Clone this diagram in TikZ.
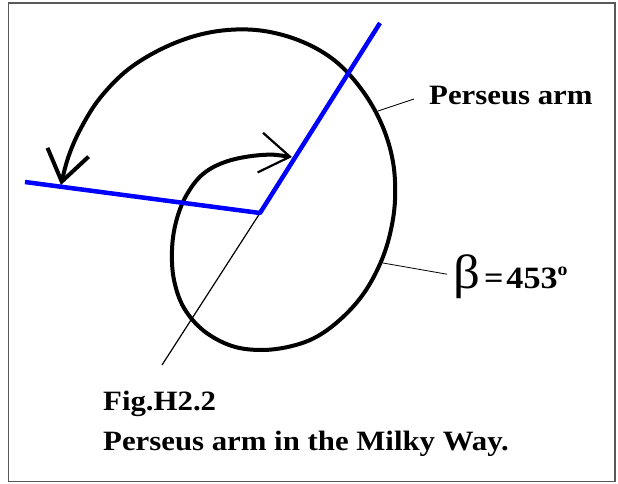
\documentclass[tikz,border=0pt]{standalone}
\usepackage{fontspec}
\setmainfont{Liberation Serif}[FakeStretch=1.1]
\usetikzlibrary{arrows.meta}
\newcommand{\labelfont}{\fontsize{28}{34}\selectfont\bfseries}

\begin{document}
\begin{tikzpicture}[
  x=1pt, y=-1pt,
  every node/.style={font=\labelfont,inner sep=0pt},
  arm/.style={draw=blue,line width=4.5pt,line join=round},
  spiral/.style={line width=4pt,line join=round},
  leader/.style={line width=0.8pt},
  frame/.style={draw=black!65,line width=1.6pt}
]
\useasboundingbox (0,0) rectangle (618,484);
\draw[frame] (8.5,3) rectangle (615,481.5);

% the spiral, from the inner arrow out to the outer one
\draw[spiral,
  {Straight Barb[length=30pt,width=40pt,line width=2.2pt]}-{Straight Barb[length=30pt,width=42pt]}]
  plot[smooth,tension=0.6] coordinates {
  (292,157) (262,155) (228,161) (203,174) (186,196) (176,222) (172,250)
  (174,280) (184,308) (204,331) (232,346) (262,350) (292,346) (318,336)
  (343,317) (364,293) (380,264) (390,234) (395,200) (393,162) (382,125)
  (362,90) (334,60) (298,40) (256,30) (212,32) (170,45) (130,68)
  (100,98) (80,130) (68,158) (61,185)};

\coordinate (centre) at (260,213);
\coordinate (westend) at (25,182);
\coordinate (armtip) at (380,23);
\coordinate (southend) at (162,365);

\draw[line width=1.2pt] (centre) -- (southend);
\draw[arm] (westend) -- (centre) -- (armtip);

% labels
\node[anchor=west] (perseus) at (429,96) {Perseus arm};
\coordinate (perseusfoot) at (378,111);
\draw[leader] (perseusfoot) -- ([xshift=-15pt,yshift=-3pt]perseus.west);

\node[anchor=base west] (beta) at (453,288)
  {{\fontsize{48}{48}\mdseries β}\kern4pt{\fontsize{31}{31}\selectfont=\kern3pt453\raisebox{0.4em}{\fontsize{18}{18}\selectfont o}}};
\coordinate (betafoot) at (383,263);
\draw[leader] (betafoot) -- ([xshift=-6pt,yshift=2pt]beta.west);

\node[anchor=base west] (fig) at (103,410) {Fig.H2.2};
\node[anchor=base west] (caption) at (103,450) {Perseus arm in the Milky Way.};
\end{tikzpicture}
\end{document}
